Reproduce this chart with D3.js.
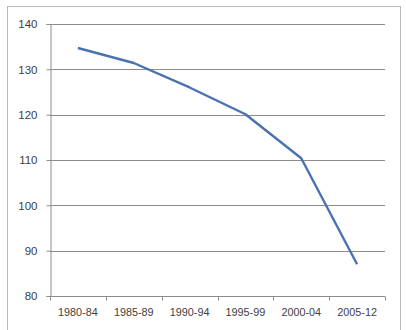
<!DOCTYPE html>
<html>
<head>
<meta charset="utf-8">
<script src="https://cdn.jsdelivr.net/npm/d3@7"></script>
<style>
  html, body { margin: 0; padding: 0; background: #fff; }
  svg { display: block; }
  text { font-family: "Liberation Sans", Arial, sans-serif; fill: #404040; }
</style>
</head>
<body>
<svg id="chart" width="406" height="330"></svg>
<script>
// Period labels along the x axis
const periods = ["1980-84", "1985-89", "1990-94", "1995-99", "2000-04", "2005-12"];
// Value for each period
const values = [134.7, 131.4, 126.0, 120.1, 110.4, 87.0];
// Y axis ticks
const yTicks = [80, 90, 100, 110, 120, 130, 140];

const svg = d3.select("#chart");
const W = 406, H = 330;
const margin = { left: 50, right: 21, top: 24, bottom: 34 };

// Outer chart frame
svg.append("rect")
  .attr("x", 7.5).attr("y", 6.5)
  .attr("width", 393).attr("height", 330)
  .attr("fill", "#fff")
  .attr("stroke", "#b8b8b8").attr("stroke-width", 1);

const x = d3.scaleBand().domain(periods).range([margin.left, W - margin.right]);
const y = d3.scaleLinear().domain([80, 140]).range([H - margin.bottom, margin.top]);

// Horizontal gridlines
svg.append("g")
  .selectAll("line")
  .data(yTicks.filter(t => t !== 80))
  .join("line")
  .attr("x1", margin.left).attr("x2", W - margin.right)
  .attr("y1", d => Math.round(y(d)) + 0.5).attr("y2", d => Math.round(y(d)) + 0.5)
  .attr("stroke", "#8c8c8c").attr("stroke-width", 1);

// Y axis
const yAxis = svg.append("g")
  .attr("transform", `translate(${margin.left + 0.5},0)`)
  .call(d3.axisLeft(y).tickValues(yTicks).tickSize(4).tickPadding(9).tickFormat(d3.format("d")));
yAxis.select(".domain").attr("stroke", "#8c8c8c");
yAxis.selectAll(".tick line").attr("stroke", "#8c8c8c");
yAxis.selectAll(".tick text").attr("font-size", 11.5).attr("fill", "#404040");

// X axis with ticks at category boundaries
const xAxisY = Math.round(y(80)) + 0.5;
const xAxis = svg.append("g").attr("transform", `translate(0,${xAxisY})`);
xAxis.append("line")
  .attr("x1", margin.left).attr("x2", W - margin.right)
  .attr("y1", 0).attr("y2", 0)
  .attr("stroke", "#8c8c8c");
const bounds = periods.map(p => x(p)).concat([x(periods[periods.length - 1]) + x.bandwidth()]);
xAxis.selectAll("line.tk")
  .data(bounds)
  .join("line").attr("class", "tk")
  .attr("x1", d => Math.round(d) + 0.5).attr("x2", d => Math.round(d) + 0.5)
  .attr("y1", 0).attr("y2", 4)
  .attr("stroke", "#8c8c8c");
xAxis.selectAll("text")
  .data(periods)
  .join("text")
  .attr("x", d => x(d) + x.bandwidth() / 2)
  .attr("y", 19)
  .attr("text-anchor", "middle")
  .attr("font-size", 10.8)
  .text(d => d);

// Data line
const line = d3.line()
  .x((d, i) => x(periods[i]) + x.bandwidth() / 2)
  .y(d => y(d));
svg.append("path")
  .datum(values)
  .attr("d", line)
  .attr("fill", "none")
  .attr("stroke", "#4a72b0")
  .attr("stroke-width", 2.4)
  .attr("stroke-linejoin", "round");
</script>
</body>
</html>
